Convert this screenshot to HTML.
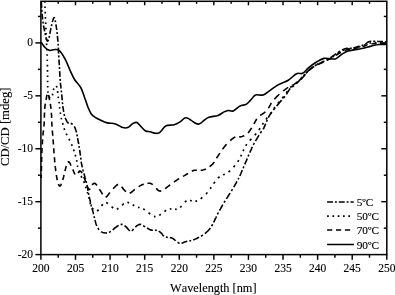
<!DOCTYPE html>
<html><head><meta charset="utf-8"><title>CD spectra</title>
<style>
html,body{margin:0;padding:0;background:#fff;}
svg{display:block;font-family:"Liberation Serif",serif;font-kerning:none;}
text{stroke:#000;stroke-width:0.12px;font-kerning:none;font-feature-settings:"kern" 0;}
</style></head><body>
<svg width="395" height="295" viewBox="0 0 395 295">
<rect width="395" height="295" fill="#fff"/>
<g fill="none" stroke="#000" stroke-width="1.6" stroke-linejoin="round">
<path d="M41.1,42.3C41.8,43.2 43.6,46.1 45.0,47.5C46.4,48.9 47.9,50.1 49.5,50.4C51.1,50.7 53.1,49.5 54.8,49.5C56.4,49.5 57.6,49.0 59.4,50.7C61.2,52.4 63.7,56.5 65.5,59.8C67.3,63.1 68.6,67.2 70.1,70.5C71.6,73.8 72.9,76.9 74.7,79.7C76.5,82.5 79.0,84.2 80.8,87.6C82.6,90.9 84.2,96.5 85.4,99.8C86.6,103.1 87.0,104.9 88.0,107.2C89.0,109.5 89.9,112.0 91.1,113.7C92.3,115.4 93.5,116.3 95.2,117.4C96.9,118.5 99.3,119.6 101.3,120.5C103.3,121.4 105.0,122.3 107.4,122.9C109.8,123.5 113.0,123.1 115.5,123.9C118.0,124.7 120.7,127.0 122.7,127.6C124.8,128.2 126.1,128.3 127.8,127.6C129.5,126.9 131.4,124.3 132.9,123.5C134.4,122.7 135.6,122.0 136.9,122.5C138.2,123.0 139.5,125.2 141.0,126.6C142.5,128.0 144.2,130.2 145.7,131.0C147.2,131.8 148.6,131.3 150.2,131.7C151.8,132.1 153.8,133.1 155.3,133.3C156.8,133.5 158.2,133.2 159.3,132.7C160.4,132.1 160.9,131.2 162.0,130.0C163.1,128.8 164.0,126.6 166.1,125.7C168.2,124.8 171.9,125.4 174.3,124.7C176.7,124.0 178.9,122.7 180.4,121.7C181.9,120.7 182.7,119.5 183.6,118.8C184.5,118.1 185.3,117.8 186.1,117.8C186.9,117.8 187.7,118.1 188.6,118.6C189.5,119.1 190.4,119.8 191.6,120.6C192.8,121.4 194.5,122.7 195.6,123.3C196.7,123.9 197.4,124.1 198.3,124.1C199.2,124.1 199.9,123.8 200.8,123.2C201.7,122.6 202.5,121.6 203.8,120.6C205.2,119.6 206.5,118.0 208.9,117.2C211.3,116.4 215.5,116.4 218.0,115.5C220.5,114.6 222.4,112.7 224.1,111.9C225.8,111.1 226.7,110.7 228.2,110.5C229.7,110.3 231.3,111.7 233.3,110.9C235.3,110.2 237.8,107.1 240.0,106.0C242.2,104.9 244.5,105.3 246.5,104.1C248.5,102.9 250.3,100.2 251.8,98.7C253.3,97.2 253.7,95.5 255.6,94.9C257.5,94.3 260.8,95.7 263.2,94.9C265.6,94.1 267.6,92.0 270.1,90.3C272.6,88.6 275.1,86.6 278.1,84.9C281.1,83.2 285.2,82.1 288.3,80.2C291.4,78.3 294.1,74.9 296.5,73.7C298.9,72.5 300.6,74.3 302.6,73.3C304.6,72.3 306.5,69.4 308.7,67.6C310.9,65.8 313.2,64.0 315.8,62.5C318.4,61.0 321.1,59.0 324.0,58.4C326.9,57.8 331.1,59.0 333.1,59.0C335.1,59.0 334.6,59.4 336.1,58.6C337.6,57.8 340.2,55.3 342.2,54.0C344.2,52.7 345.2,51.9 348.3,51.0C351.4,50.1 356.7,49.5 360.5,48.7C364.3,47.9 368.1,46.8 371.2,46.1C374.3,45.4 376.4,44.8 378.9,44.5C381.4,44.2 384.8,44.5 386.0,44.5"/>
<path d="M41.3,2.0L41.4,3.0L41.4,4.1L41.5,5.2L41.6,6.3L41.6,7.3L41.7,7.9M41.8,9.8L41.9,10.8L42.0,11.8M42.1,13.8L42.2,14.9L42.3,16.0L42.4,17.0L42.5,18.1L42.6,19.1L42.7,19.5M42.9,21.6L43.1,22.6L43.2,23.5M43.5,25.5L43.7,26.5L43.9,27.6L44.1,28.6L44.3,29.6L44.5,30.6L44.6,31.3M45.1,33.2L45.3,34.3L45.5,35.2M45.9,37.2L46.2,38.2L46.5,39.2L46.8,40.2L47.3,41.1L48.1,40.7L48.5,39.7M49.1,37.8L49.3,36.8L49.5,35.8M49.9,33.8L50.0,32.8L50.2,31.8L50.4,30.8L50.6,29.8L50.8,28.7L51.0,28.1M51.4,26.1L51.7,25.0L51.9,24.2M52.4,22.2L52.6,21.1L52.9,20.2L53.2,19.2L53.6,18.2L54.2,17.5L54.7,18.3L54.7,18.3M55.2,20.3L55.4,21.4L55.5,22.2M55.9,24.3L56.1,25.3L56.2,26.3L56.4,27.3L56.5,28.4L56.7,29.4L56.7,30.1M57.0,32.1L57.1,33.1L57.2,34.0M57.4,35.9L57.5,36.9L57.6,37.9L57.7,39.0L57.8,40.0L57.9,41.1L57.9,41.8M58.1,43.8L58.2,44.8L58.2,45.6M58.3,47.6L58.4,48.7L58.4,49.7L58.5,50.7L58.5,51.8L58.6,52.8L58.6,53.4M58.7,55.4L58.8,56.4L58.8,57.4M59.0,59.4L59.0,60.4L59.1,61.4L59.1,62.5L59.2,63.5L59.3,64.6L59.3,65.2M59.4,67.1L59.5,68.2L59.5,69.0M59.6,71.1L59.7,72.1L59.8,73.1L59.8,74.1L59.9,75.2L59.9,76.3L60.0,76.8M60.1,78.9L60.2,79.9L60.3,80.8M60.4,82.7L60.5,83.8L60.6,84.8L60.8,85.9L60.9,86.9L61.0,87.9L61.1,88.5M61.3,90.5L61.4,91.6L61.5,92.4M61.7,94.4L61.8,95.5L61.9,96.6L62.0,97.7L62.1,98.7L62.2,99.7L62.2,100.2M62.4,102.2L62.5,103.3L62.6,104.2M62.8,106.1L62.9,107.1L63.1,108.1L63.3,109.2L63.4,110.2L63.6,111.2L63.7,111.9M64.1,114.0L64.3,115.0L64.6,115.9M65.2,117.9L65.6,118.8L66.0,119.7L66.5,120.7L67.0,121.6L67.6,122.5L68.4,123.1L68.7,123.2M70.8,123.2L71.7,123.7L72.5,124.4L72.6,124.5M74.2,126.5L74.8,127.4L75.2,128.4L75.5,129.3L75.9,130.3L76.1,131.3L76.4,132.3L76.4,132.4M76.9,134.3L77.1,135.3L77.3,136.3M77.6,138.2L77.8,139.3L78.0,140.4L78.2,141.4L78.4,142.5L78.6,143.5L78.7,144.1M79.0,146.1L79.2,147.1L79.3,147.9M79.6,149.9L79.8,150.9L79.9,152.0L80.1,153.1L80.2,154.1L80.4,155.2L80.5,155.7M80.7,157.7L80.9,158.8L81.0,159.6M81.2,161.6L81.3,162.6L81.5,163.7L81.8,164.7L82.0,165.8L82.2,166.9L82.3,167.4M82.8,169.4L83.0,170.4L83.3,171.4M83.8,173.4L84.2,174.4L84.5,175.5L84.8,176.5L85.0,177.4L85.3,178.5L85.5,179.2M86.0,181.1L86.3,182.2L86.5,183.0M87.0,185.0L87.2,186.0L87.4,187.1L87.6,188.1L87.8,189.1L87.9,190.1L88.0,190.8M88.4,192.9L88.6,193.9L88.8,194.8M89.2,196.7L89.5,197.8L89.7,198.8L89.9,199.7L90.1,200.8L90.4,201.9L90.5,202.6M91.0,204.5L91.2,205.5L91.5,206.4M92.0,208.4L92.3,209.4L92.6,210.4L92.9,211.5L93.2,212.4L93.4,213.5L93.6,214.2M94.0,216.2L94.3,217.3L94.5,218.2M94.9,220.1L95.2,221.1L95.5,222.1L95.8,223.2L96.1,224.2L96.5,225.1L96.8,225.9M97.9,228.0L98.5,228.9L99.1,229.7L99.2,229.8M101.1,231.6L102.0,232.2L103.0,232.6L104.0,232.8L105.0,233.0L106.1,233.0L107.0,232.9M108.9,232.3L109.9,231.9L110.8,231.4M112.8,229.8L113.6,229.1L114.4,228.4L115.2,227.7L116.0,227.2L116.9,226.5L117.8,225.9L118.7,225.4M120.6,224.5L121.7,224.4L122.6,224.5M124.5,225.6L125.3,226.2L126.1,226.8L126.8,227.6L127.5,228.4L128.2,229.2L128.9,230.0L129.6,230.7L129.9,230.9M131.8,230.8L132.7,230.1L133.3,229.3L133.6,229.0M135.3,227.0L136.2,226.3L137.0,225.7L137.9,225.1L138.9,224.6L139.9,224.4L140.9,224.5L141.1,224.6M143.1,225.6L144.0,226.2L145.0,226.8L145.1,226.9M147.0,228.0L147.9,228.5L148.8,229.0L149.8,229.5L150.7,229.9L151.8,230.1L152.8,230.2L152.9,230.2M154.9,230.3L155.9,230.3L156.8,230.4M158.7,231.1L159.6,231.7L160.4,232.4L161.3,233.1L162.0,233.8L162.5,234.7L163.1,235.5L163.9,236.3L163.9,236.3M165.9,237.1L167.0,237.3L167.8,237.4M169.8,237.6L170.9,237.8L171.9,238.1L172.9,238.5L173.8,239.1L174.6,239.8L175.4,240.5L175.6,240.8M177.6,242.3L178.4,242.8L179.4,243.3L179.5,243.3M181.5,243.2L182.5,242.9L183.5,242.5L184.5,242.1L185.5,241.7L186.5,241.4L187.3,241.2M189.4,240.9L190.4,240.7L191.2,240.6M193.2,240.0L194.2,239.6L195.2,239.1L196.2,238.7L197.1,238.3L198.0,237.8L198.9,237.3L199.0,237.2M201.0,236.2L201.9,235.7L202.7,235.1L202.9,235.0M204.9,233.6L205.7,233.0L206.5,232.2L207.3,231.5L208.1,230.7L208.8,230.0L209.4,229.2L210.1,228.4L210.2,228.1M211.5,226.2L212.0,225.3L212.5,224.4L212.6,224.2M213.6,222.3L214.1,221.3L214.6,220.4L215.0,219.4L215.5,218.5L216.0,217.5L216.4,216.6L216.5,216.4M217.4,214.4L217.9,213.5L218.4,212.5M219.5,210.5L220.0,209.6L220.5,208.8L221.0,207.9L221.5,207.0L222.0,206.1L222.5,205.2L222.8,204.7M224.0,202.7L224.5,201.8L225.1,201.0L225.2,200.8M226.4,198.9L227.0,197.9L227.6,197.0L228.1,196.1L228.7,195.2L229.3,194.3L229.9,193.4L230.1,193.1M231.4,191.0L231.9,190.2L232.4,189.3L232.5,189.2M233.7,187.1L234.3,186.2L234.8,185.3L235.3,184.4L235.8,183.5L236.3,182.6L236.8,181.6L237.0,181.4M238.1,179.3L238.6,178.4L238.9,178.1M239.8,176.0L240.2,175.1L240.6,174.2L241.0,173.3L241.4,172.3L241.8,171.4L242.2,170.4L242.3,170.2M243.2,168.2L243.6,167.2L243.9,166.4M244.8,164.4L245.2,163.4L245.6,162.4L246.0,161.4L246.5,160.4L246.9,159.4L247.3,158.5M248.1,156.5L248.5,155.5L248.9,154.6M249.8,152.6L250.2,151.7L250.7,150.7L251.1,149.7L251.5,148.8L251.9,147.8L252.4,146.8M253.3,144.8L253.9,143.8L254.3,142.9M255.4,141.0L256.0,140.1L256.6,139.2L257.1,138.4L257.7,137.4L258.2,136.5L258.8,135.6L259.1,135.2M260.3,133.2L260.9,132.3L261.4,131.4L261.5,131.2M262.8,129.2L263.6,128.6L264.0,127.6L264.4,126.7L264.9,125.7L265.2,124.7L265.6,123.8L265.7,123.7M266.5,121.7L266.9,120.7L267.3,119.8M268.2,117.7L268.7,116.8L269.2,115.9L269.7,115.0L270.3,114.2L270.8,113.3L271.4,112.5L271.8,111.9M273.4,110.0L274.0,109.2L274.7,108.4L275.0,108.0M276.7,106.1L277.3,105.2L278.0,104.4L278.7,103.6L279.4,102.7L280.1,101.9L280.8,101.1L281.5,100.4L281.6,100.2M283.3,98.2L284.0,97.4L284.6,96.7L284.9,96.3M286.4,94.3L286.9,93.5L287.5,92.6L288.0,91.7L288.6,90.8L289.2,89.9L289.7,89.1L290.3,88.5M292.2,87.0L293.0,86.4L293.9,85.7L294.1,85.5M296.1,83.8L296.8,83.1L297.6,82.4L298.3,81.6L299.0,80.9L299.7,80.1L300.4,79.3L301.1,78.5L301.6,78.0M303.4,76.0L304.1,75.2L304.8,74.4L305.1,74.1M307.0,72.1L307.7,71.4L308.4,70.6L309.2,69.9L310.0,69.2L310.8,68.5L311.6,67.8L312.5,67.2L312.8,67.0M314.8,65.7L315.7,65.2L316.6,64.7M318.6,63.8L319.6,63.4L320.6,63.0L321.5,62.6L322.5,62.2L323.4,61.8L324.3,61.3L324.4,61.3M326.5,60.1L327.3,59.6L328.2,59.1L328.4,59.0M330.4,57.7L331.2,57.2L332.1,56.6L332.9,56.0L333.8,55.5L334.6,54.8L335.5,54.2L336.2,53.7M338.1,52.4L339.0,51.8L339.9,51.3L340.1,51.2M342.0,50.0L343.0,49.6L344.0,49.1L345.0,48.8L346.0,48.5L347.0,48.4L347.9,48.3M349.8,48.3L350.9,48.2L351.7,48.1M353.8,47.7L354.8,47.5L355.8,47.2L356.8,46.9L357.9,46.6L358.9,46.3L359.5,46.2M361.5,45.5L362.5,45.2L363.4,44.9M365.4,43.9L366.3,43.3L367.2,42.7L368.0,42.1L369.0,41.7L370.0,41.4L371.0,41.3L371.3,41.3M373.2,41.2L374.3,41.3L375.2,41.3M377.2,41.4L378.3,41.5L379.4,41.5L380.4,41.5L381.5,41.6L382.5,41.6L383.0,41.6M384.9,41.7L385.9,41.8L386.0,41.8"/>
<path d="M44.8,2.0L44.8,2.8M45.0,6.5L45.0,7.6L45.0,8.1M45.2,11.8L45.2,12.9L45.2,13.4M45.4,17.1L45.4,18.2L45.4,18.7M45.6,22.4L45.7,23.4L45.7,24.0M45.9,27.7L45.9,28.7L46.0,29.3M46.1,33.0L46.2,34.0L46.2,34.6M46.3,38.3L46.4,39.3L46.4,39.9M46.6,43.6L46.6,44.6L46.7,45.2M46.9,48.9L46.9,50.0L46.9,50.4M47.1,54.2L47.1,55.2L47.1,55.8M47.2,59.6L47.3,60.7L47.3,61.1M47.4,64.8L47.4,65.9L47.4,66.4M47.5,70.1L47.5,71.2L47.5,71.7M47.6,75.4L47.6,76.5L47.6,77.0M47.6,80.7L47.6,81.8L47.6,82.3M47.7,86.0L47.7,87.1L47.7,87.6M47.9,91.4L48.0,92.4L48.1,92.9M49.1,96.6L49.5,97.5L50.2,98.1M52.5,95.3L52.6,94.2L52.7,93.8M53.4,90.1L53.7,89.0L53.9,88.4M56.3,85.9L56.8,86.9L57.0,87.5M57.6,91.2L57.7,92.3L57.8,92.8M58.2,96.6L58.3,97.6L58.4,98.1M59.0,101.8L59.2,102.8L59.3,103.4M59.6,107.1L59.7,108.2L59.8,108.7M60.2,112.5L60.4,113.5L60.4,114.0M61.2,117.8L61.4,118.8L61.5,119.3M62.6,123.0L62.9,124.0L63.1,124.7M64.1,128.3L64.4,129.2L64.6,130.0M66.2,133.6L66.6,134.5L67.0,135.2M69.0,138.9L69.5,139.9L69.8,140.5M71.5,144.2L71.9,145.2L72.2,145.8M73.5,149.5L73.9,150.5L74.1,151.2M75.2,154.8L75.5,155.8L75.7,156.5M76.6,160.1L76.8,161.2L76.8,161.8M77.3,165.5L77.6,166.5L77.8,167.1M79.0,170.7L79.4,171.8L79.6,172.4M81.0,176.0L81.5,176.9L81.8,177.7M83.7,181.3L84.1,182.3L84.3,183.0M85.6,186.7L85.9,187.7L86.1,188.3M87.3,191.9L87.6,192.9L87.8,193.5M88.8,197.2L89.1,198.2L89.2,198.9M90.0,202.5L90.3,203.5L90.4,204.2M91.9,207.9L92.6,208.7L93.4,209.4M97.0,210.9L97.9,210.4L98.6,209.6M101.4,205.9L102.1,205.2L102.8,204.3M106.2,202.5L107.1,203.0L107.9,203.6M111.6,206.6L112.4,207.3L113.2,208.1M116.8,209.2L117.8,208.7L118.4,208.3M122.1,205.3L122.9,204.5L123.6,203.7L123.7,203.7M127.4,202.3L128.3,202.6L129.0,202.9M132.7,204.8L133.5,205.3L134.3,205.8M138.0,207.3L139.1,207.5L139.6,207.5M143.3,208.8L144.2,209.4L144.9,209.8M148.6,212.6L149.4,213.3L150.2,214.0M153.9,216.4L154.9,216.6L155.5,216.6M159.2,215.2L160.2,214.7L160.8,214.3M164.5,211.6L165.3,210.9L166.1,210.3M169.8,209.0L170.8,208.9L171.4,208.9M175.1,209.1L176.1,209.3L176.7,209.5M180.2,207.5L180.9,206.7L181.5,205.9M184.8,202.2L185.5,201.5L186.3,200.8L186.4,200.7M190.1,200.3L191.1,200.7L191.7,200.9M195.4,201.2L196.4,201.1L197.0,200.9M200.7,198.8L201.5,198.1L202.3,197.4M206.0,194.1L206.7,193.3L207.4,192.5M210.1,188.8L210.7,187.9L211.2,187.2M213.7,183.6L214.3,182.7L215.0,181.9M217.9,178.2L218.6,177.5L219.4,176.8L219.5,176.7M223.1,174.8L224.1,174.5L224.8,174.3M228.5,172.0L229.3,171.4L230.1,170.7M233.5,167.1L234.2,166.3L234.8,165.4M237.6,161.8L238.3,160.9L238.7,160.1M240.7,156.4L241.1,155.5L241.5,154.8M243.1,151.1L243.5,150.1L243.8,149.5M245.7,145.8L246.3,144.9L246.7,144.2M249.8,140.5L250.5,139.8L251.2,139.1L251.4,138.9M254.8,135.2L255.5,134.4L256.1,133.6M258.9,130.0L259.5,129.1L260.1,128.3M262.5,124.6L263.0,123.7L263.4,123.0M266.0,119.4L266.6,118.6L267.2,117.8L267.3,117.7M270.3,114.0L270.9,113.2L271.4,112.4M273.9,108.7L274.4,107.8L275.0,107.1M277.9,103.4L278.6,102.6L279.2,101.9M282.2,98.2L282.9,97.4L283.6,96.5M286.3,92.8L286.9,92.0L287.4,91.2M290.3,87.6L291.0,86.9L291.9,86.1L291.9,86.1M295.7,83.3L296.5,82.7L297.3,82.0M301.0,78.6L301.7,77.8L302.4,77.0M305.8,73.3L306.5,72.6L307.3,71.8L307.4,71.7M311.1,68.2L312.0,67.6L312.7,67.0M316.4,64.7L317.4,64.2L318.0,63.8M321.7,62.1L322.6,61.7L323.4,61.3M327.0,59.7L328.0,59.2L328.6,58.9M332.3,57.0L333.2,56.5L333.9,56.0M337.6,53.5L338.5,52.9L339.2,52.5M342.9,50.4L343.9,50.0L344.5,49.8M348.2,48.9L349.3,48.8L349.8,48.8M353.5,48.2L354.5,47.9L355.1,47.8M358.8,46.9L359.8,46.6L360.4,46.4M364.1,45.3L365.1,44.9L365.7,44.6M369.5,43.0L370.5,42.9L371.0,42.8M374.7,42.7L375.7,42.7L376.3,42.8M380.1,42.8L381.1,42.8L381.6,42.8M385.3,43.0L386.0,43.0" stroke-width="1.7"/>
<path d="M41.2,178.0L41.2,177.0L41.2,175.9L41.3,174.9L41.3,174.8M41.4,171.0L41.4,170.0L41.4,169.0L41.4,167.9L41.5,166.9L41.5,166.0M41.6,162.1L41.6,161.0L41.6,160.0L41.6,158.9L41.7,157.9L41.7,157.1M41.8,153.3L41.8,152.3L41.9,151.2L41.9,150.2L42.0,149.1L42.0,148.1M42.3,144.3L42.4,143.3L42.4,142.2L42.5,141.2L42.6,140.2L42.7,139.3M43.0,135.4L43.0,134.4L43.1,133.4L43.2,132.4L43.4,131.3L43.5,130.4M43.9,126.5L44.0,125.5L44.1,124.4L44.2,123.4L44.2,122.4L44.3,121.4M44.4,117.7L44.4,116.6L44.4,115.6L44.4,114.6L44.5,113.5L44.5,112.6M44.7,108.8L44.8,107.8L44.9,106.7L45.1,105.7L45.2,104.6L45.3,103.7M46.0,99.9L46.2,98.9L46.4,97.8L46.6,96.7L46.8,95.7L47.1,94.7M48.6,94.9L48.8,96.0L49.0,97.0L49.2,98.0L49.4,99.1L49.6,100.1M50.3,103.8L50.5,104.8L50.6,105.8L50.8,106.9L50.9,107.9L51.0,108.9M51.4,112.7L51.4,113.7L51.5,114.8L51.6,115.8L51.6,116.9L51.7,117.8M51.7,121.6L51.8,122.8L51.9,123.9L51.9,124.9L52.0,125.9L52.1,126.7M52.3,130.5L52.4,131.6L52.5,132.7L52.6,133.8L52.7,134.9L52.7,135.7M53.0,139.4L53.1,140.5L53.2,141.5L53.3,142.5L53.3,143.5L53.4,144.5M53.7,148.3L53.8,149.4L53.9,150.4L53.9,151.5L54.0,152.5L54.1,153.4M54.4,157.2L54.5,158.3L54.6,159.3L54.6,160.3L54.7,161.4L54.8,162.4M55.2,166.2L55.3,167.2L55.5,168.3L55.6,169.3L55.7,170.4L55.8,171.2M56.4,175.0L56.5,176.1L56.7,177.1L56.9,178.1L57.0,179.2L57.2,180.1M58.4,184.0L58.8,185.0L59.3,185.9L60.2,186.0L60.8,185.2L61.2,184.3L61.4,183.8M62.7,179.9L63.0,178.9L63.3,177.9L63.6,176.9L63.8,175.9L64.1,174.9M65.0,171.1L65.2,170.0L65.5,169.0L65.7,167.9L66.0,166.9L66.3,166.0M67.7,162.2L68.6,161.7L69.4,162.3L69.9,163.2L70.4,164.1L70.8,165.1L71.1,165.6M72.7,169.5L73.2,170.4L73.6,171.4L74.0,172.3L74.4,173.4L74.9,174.3L75.0,174.6M78.0,173.1L78.6,172.3L79.2,171.4L80.0,171.0L80.9,171.4L81.6,172.3L82.0,173.1M83.8,176.9L84.2,177.9L84.6,178.9L85.0,179.9L85.3,180.9L85.7,181.9M87.0,185.8L87.4,186.7L87.8,187.7L88.3,188.7L89.0,189.5L89.9,189.2L90.2,188.7M92.1,184.9L92.8,184.1L93.7,183.5L94.7,183.3L95.5,183.8L96.3,184.6L96.9,185.4M99.4,189.2L100.0,190.1L100.6,191.0L101.1,191.9L101.7,192.8L102.2,193.7L102.5,194.3M105.6,197.2L106.5,196.7L107.3,195.9L108.0,195.1L108.6,194.3L109.2,193.4L109.8,192.5M113.2,188.7L113.9,187.9L114.6,187.2L115.4,186.4L116.1,185.7L117.0,185.0L117.9,184.5L118.2,184.4M121.6,186.7L122.2,187.5L122.8,188.4L123.5,189.2L124.2,189.9L124.9,190.7L125.6,191.4L125.9,191.7M129.7,193.3L130.7,192.8L131.5,192.2L132.4,191.5L133.1,190.8L133.9,190.1L134.7,189.5L134.8,189.5M138.7,186.7L139.5,186.1L140.4,185.6L141.3,185.1L142.3,184.7L143.3,184.3L143.8,184.2M147.5,183.3L148.6,183.2L149.6,183.2L150.6,183.4L151.5,183.8L152.4,184.4L152.7,184.7M156.3,188.3L157.0,189.1L157.7,189.9L158.5,190.6L159.4,191.0L160.4,191.1L161.3,190.8M165.1,188.7L165.9,188.1L166.7,187.4L167.5,186.8L168.4,186.2L169.2,185.6L170.0,185.0L170.2,184.9M174.0,182.0L174.9,181.4L175.8,180.7L176.6,180.2L177.5,179.6L178.4,179.0L179.1,178.6M182.9,176.4L183.9,175.9L184.8,175.4L185.8,174.8L186.6,174.3L187.5,173.8L188.0,173.4M191.8,171.2L192.8,170.8L193.8,170.4L194.8,170.3L195.9,170.2L196.9,170.3M200.7,170.4L201.7,170.3L202.7,170.1L203.7,169.8L204.7,169.4L205.7,169.0L205.8,168.9M209.6,166.7L210.4,166.0L211.2,165.4L212.0,164.7L212.8,163.9L213.5,163.0L214.1,162.2L214.2,162.0M216.5,158.2L217.1,157.3L217.6,156.5L218.2,155.7L218.7,154.8L219.3,154.0L219.9,153.1M222.4,149.3L223.1,148.5L223.7,147.6L224.4,146.8L225.1,145.9L225.8,145.1L226.5,144.3L226.6,144.2M230.2,140.6L231.1,139.8L231.9,139.1L232.8,138.5L233.6,137.9L234.5,137.3L235.4,136.9M239.2,136.8L240.1,136.9L241.2,136.8L242.2,136.5L243.2,136.1L244.2,135.8L244.3,135.7M248.0,133.0L248.7,132.2L249.3,131.3L249.9,130.5L250.5,129.6L251.1,128.8L251.7,127.8M254.0,124.0L254.4,123.1L254.9,122.2L255.4,121.3L255.9,120.4L256.4,119.5L256.8,118.9M260.2,115.5L261.0,114.9L261.9,114.3L262.7,113.7L263.6,113.2L264.4,112.6L265.2,111.9L265.3,111.8M268.4,108.1L269.0,107.2L269.5,106.3L270.0,105.4L270.5,104.6L271.0,103.7L271.4,103.0M274.4,99.2L275.1,98.4L275.8,97.7L276.5,96.9L277.3,96.2L278.0,95.5L278.7,94.8L279.3,94.2M283.1,90.9L284.0,90.3L284.9,89.7L285.7,89.1L286.6,88.4L287.5,87.9L288.2,87.4M292.0,85.3L292.9,84.9L293.9,84.4L294.8,83.9L295.7,83.4L296.6,82.9L297.2,82.5M300.9,79.4L301.7,78.6L302.4,77.8L303.1,77.0L303.8,76.2L304.4,75.4L305.1,74.6L305.4,74.3M309.1,70.5L309.9,69.7L310.7,69.0L311.6,68.4L312.4,67.7L313.3,67.1L314.2,66.5M318.0,64.4L319.0,64.0L319.9,63.6L320.8,63.2L321.8,62.8L322.8,62.4L323.1,62.2M326.9,60.4L327.9,59.9L328.8,59.4L329.7,59.0L330.6,58.5L331.5,58.0L332.0,57.7M335.8,55.4L336.7,54.8L337.5,54.3L338.4,53.8L339.3,53.2L340.2,52.7L340.9,52.3M344.7,50.5L345.7,50.2L346.6,49.9L347.6,49.7L348.7,49.5L349.7,49.4L349.8,49.4M353.6,48.6L354.6,48.4L355.6,48.2L356.7,47.9L357.7,47.7L358.8,47.4M362.5,46.5L363.5,46.2L364.6,45.9L365.6,45.5L366.5,45.1L367.5,44.6L367.6,44.6M371.4,43.8L372.4,43.7L373.5,43.6L374.6,43.6L375.6,43.6L376.6,43.6M380.3,43.5L381.4,43.5L382.4,43.5L383.5,43.5L384.6,43.5L385.5,43.5"/>
</g>
<rect x="40.9" y="1.3" width="345.90000000000003" height="253.29999999999998" fill="none" stroke="#000" stroke-width="1.5"/>
<g stroke="#000" stroke-width="1.45"><line x1="40.90" y1="254.6" x2="40.90" y2="259.8"/><line x1="58.20" y1="254.6" x2="58.20" y2="257.7"/><line x1="58.20" y1="1.3" x2="58.20" y2="3.8"/><line x1="75.49" y1="254.6" x2="75.49" y2="259.8"/><line x1="75.49" y1="1.3" x2="75.49" y2="5.3"/><line x1="92.79" y1="254.6" x2="92.79" y2="257.7"/><line x1="92.79" y1="1.3" x2="92.79" y2="3.8"/><line x1="110.08" y1="254.6" x2="110.08" y2="259.8"/><line x1="110.08" y1="1.3" x2="110.08" y2="5.3"/><line x1="127.38" y1="254.6" x2="127.38" y2="257.7"/><line x1="127.38" y1="1.3" x2="127.38" y2="3.8"/><line x1="144.67" y1="254.6" x2="144.67" y2="259.8"/><line x1="144.67" y1="1.3" x2="144.67" y2="5.3"/><line x1="161.97" y1="254.6" x2="161.97" y2="257.7"/><line x1="161.97" y1="1.3" x2="161.97" y2="3.8"/><line x1="179.26" y1="254.6" x2="179.26" y2="259.8"/><line x1="179.26" y1="1.3" x2="179.26" y2="5.3"/><line x1="196.56" y1="254.6" x2="196.56" y2="257.7"/><line x1="196.56" y1="1.3" x2="196.56" y2="3.8"/><line x1="213.85" y1="254.6" x2="213.85" y2="259.8"/><line x1="213.85" y1="1.3" x2="213.85" y2="5.3"/><line x1="231.15" y1="254.6" x2="231.15" y2="257.7"/><line x1="231.15" y1="1.3" x2="231.15" y2="3.8"/><line x1="248.44" y1="254.6" x2="248.44" y2="259.8"/><line x1="248.44" y1="1.3" x2="248.44" y2="5.3"/><line x1="265.74" y1="254.6" x2="265.74" y2="257.7"/><line x1="265.74" y1="1.3" x2="265.74" y2="3.8"/><line x1="283.03" y1="254.6" x2="283.03" y2="259.8"/><line x1="283.03" y1="1.3" x2="283.03" y2="5.3"/><line x1="300.32" y1="254.6" x2="300.32" y2="257.7"/><line x1="300.32" y1="1.3" x2="300.32" y2="3.8"/><line x1="317.62" y1="254.6" x2="317.62" y2="259.8"/><line x1="317.62" y1="1.3" x2="317.62" y2="5.3"/><line x1="334.92" y1="254.6" x2="334.92" y2="257.7"/><line x1="334.92" y1="1.3" x2="334.92" y2="3.8"/><line x1="352.21" y1="254.6" x2="352.21" y2="259.8"/><line x1="352.21" y1="1.3" x2="352.21" y2="5.3"/><line x1="369.50" y1="254.6" x2="369.50" y2="257.7"/><line x1="369.50" y1="1.3" x2="369.50" y2="3.8"/><line x1="386.80" y1="254.6" x2="386.80" y2="259.8"/><line x1="35.4" y1="254.60" x2="40.9" y2="254.60"/><line x1="37.9" y1="228.14" x2="40.9" y2="228.14"/><line x1="383.8" y1="228.14" x2="386.8" y2="228.14"/><line x1="35.4" y1="201.68" x2="40.9" y2="201.68"/><line x1="381.3" y1="201.68" x2="386.8" y2="201.68"/><line x1="37.9" y1="175.21" x2="40.9" y2="175.21"/><line x1="383.8" y1="175.21" x2="386.8" y2="175.21"/><line x1="35.4" y1="148.75" x2="40.9" y2="148.75"/><line x1="381.3" y1="148.75" x2="386.8" y2="148.75"/><line x1="37.9" y1="122.29" x2="40.9" y2="122.29"/><line x1="383.8" y1="122.29" x2="386.8" y2="122.29"/><line x1="35.4" y1="95.83" x2="40.9" y2="95.83"/><line x1="381.3" y1="95.83" x2="386.8" y2="95.83"/><line x1="37.9" y1="69.36" x2="40.9" y2="69.36"/><line x1="383.8" y1="69.36" x2="386.8" y2="69.36"/><line x1="35.4" y1="42.90" x2="40.9" y2="42.90"/><line x1="381.3" y1="42.90" x2="386.8" y2="42.90"/><line x1="37.9" y1="16.44" x2="40.9" y2="16.44"/><line x1="383.8" y1="16.44" x2="386.8" y2="16.44"/></g>
<g font-size="11.5px" fill="#000"><text x="40.9" y="272" text-anchor="middle">200</text><text x="75.5" y="272" text-anchor="middle">205</text><text x="110.1" y="272" text-anchor="middle">210</text><text x="144.7" y="272" text-anchor="middle">215</text><text x="179.3" y="272" text-anchor="middle">220</text><text x="213.8" y="272" text-anchor="middle">225</text><text x="248.4" y="272" text-anchor="middle">230</text><text x="283.0" y="272" text-anchor="middle">235</text><text x="317.6" y="272" text-anchor="middle">240</text><text x="352.2" y="272" text-anchor="middle">245</text><text x="386.8" y="272" text-anchor="middle">250</text><text x="33" y="46.3" text-anchor="end">0</text><text x="33" y="99.2" text-anchor="end">-5</text><text x="33" y="152.2" text-anchor="end">-10</text><text x="33" y="205.1" text-anchor="end">-15</text><text x="33" y="258.0" text-anchor="end">-20</text></g>
<text x="213.3" y="291.8" font-size="12.3px" text-anchor="middle">Wavelength [nm]</text>
<text transform="translate(9,126.75) rotate(-90)" font-size="12.7px" text-anchor="middle">CD/CD [mdeg]</text>
<g stroke="#000" stroke-width="1.5" fill="none">
<line x1="327.1" y1="202" x2="353.7" y2="202" stroke-dasharray="5.9 1.9 2 1.9"/>
<line x1="327.1" y1="216.2" x2="351" y2="216.2" stroke-dasharray="1.7 3.6" stroke-width="1.7"/>
<line x1="327.1" y1="229.9" x2="350.1" y2="229.9" stroke-dasharray="5.2 3.7"/>
<line x1="327.1" y1="244.5" x2="354" y2="244.5"/>
</g>
<g font-size="11.3px" fill="#000">
<text x="356.7" y="206">5ºC</text>
<text x="356.7" y="220.2">50ºC</text>
<text x="356.7" y="234.3">70ºC</text>
<text x="356.7" y="248.5">90ºC</text>
</g>
</svg>
</body></html>
